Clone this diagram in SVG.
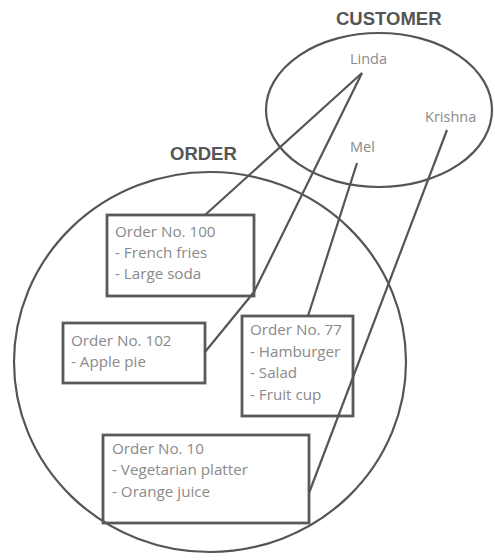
<svg xmlns="http://www.w3.org/2000/svg" width="495" height="560" viewBox="0 0 495 560">
<style>
.set{fill:none;stroke:#555;stroke-width:2.2}
.box{fill:none;stroke:#5a5a5a;stroke-width:2.8}
.ln{fill:none;stroke:#555;stroke-width:2.2;stroke-linejoin:round}
.hd{font-family:"Liberation Sans",Arial,sans-serif;font-weight:bold;font-size:18.5px;fill:#555}
.nm{font-family:"Open Sans","Liberation Sans",sans-serif;font-size:14.5px;fill:#8a8a8a}
.tx{font-family:"Open Sans","Liberation Sans",sans-serif;font-size:15.2px;fill:#8a8a8a}
</style>
<rect width="495" height="560" fill="#fff"/>
<g id="customer">
<ellipse class="set" cx="379" cy="110" rx="113" ry="77"/>
<text class="hd" x="336" y="25">CUSTOMER</text>
</g>
<g id="order">
<ellipse class="set" cx="210" cy="362" rx="196" ry="190"/>
<text class="hd" x="170" y="160">ORDER</text>
</g>
<g id="linda"><text class="nm" x="350" y="64">Linda</text></g>
<g id="mel"><text class="nm" x="350" y="152">Mel</text></g>
<g id="krishna"><text class="nm" x="425" y="122">Krishna</text></g>
<g id="order100">
<rect class="box" x="107" y="215" width="147" height="81"/>
<text class="tx" x="115" y="237">Order No. 100</text>
<text class="tx" x="115" y="258">- French fries</text>
<text class="tx" x="115" y="279">- Large soda</text>
</g>
<g id="order102">
<rect class="box" x="63" y="323" width="142" height="60"/>
<text class="tx" x="71" y="346">Order No. 102</text>
<text class="tx" x="71" y="367">- Apple pie</text>
</g>
<g id="order77">
<rect class="box" x="242" y="316" width="111" height="100"/>
<text class="tx" x="250" y="335">Order No. 77</text>
<text class="tx" x="250" y="357">- Hamburger</text>
<text class="tx" x="250" y="378">- Salad</text>
<text class="tx" x="250" y="400">- Fruit cup</text>
</g>
<g id="order10">
<rect class="box" x="103" y="435" width="206" height="88"/>
<text class="tx" x="112" y="454">Order No. 10</text>
<text class="tx" x="112" y="475">- Vegetarian platter</text>
<text class="tx" x="112" y="497">- Orange juice</text>
</g>
<g id="connectors">
<line class="ln" x1="362" y1="73" x2="205" y2="215"/>
<polyline class="ln" points="362,73 254,292 205,352"/>
<line class="ln" x1="357" y1="163" x2="308" y2="316"/>
<line class="ln" x1="447" y1="130" x2="309" y2="493"/>
</g>
</svg>
